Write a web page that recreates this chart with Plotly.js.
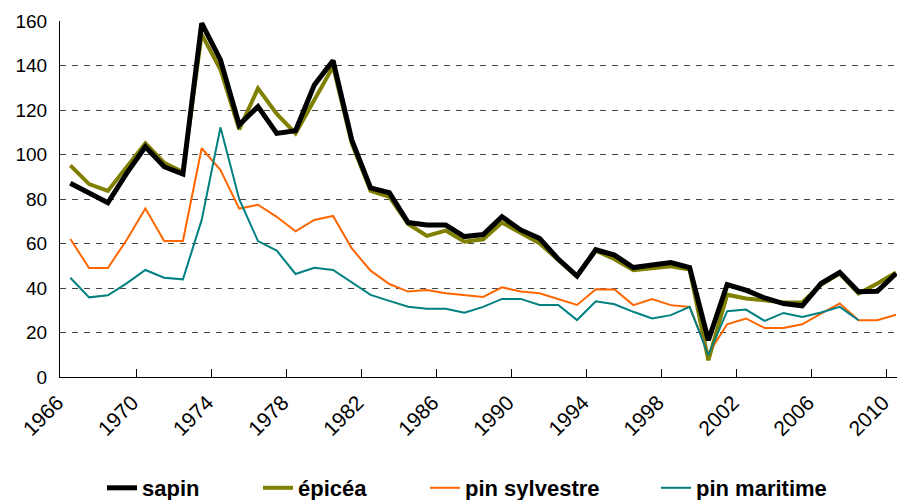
<!DOCTYPE html>
<html>
<head>
<meta charset="utf-8">
<script src="https://cdn.plot.ly/plotly-3.0.1.min.js"></script>
<style>html,body{margin:0;padding:0;background:#fff}#chart{width:897px;height:500px}</style>
</head>
<body>
<div id="chart"></div>
<script>
var years = [];
for (var yr = 1966; yr <= 2010; yr++) years.push(yr);

var sapin = [87.1, 82.8, 78.3, 91.5, 103.5, 94.5, 91.2, 159, 142.5, 113.3,
             121.5, 109.5, 110.7, 131.2, 142.2, 106.5, 85, 82.8, 69.4, 68.3,
             68.3, 63.1, 64, 72, 66.1, 62.3, 53, 45.4, 57.2, 54.8,
             49.2, 50.3, 51.4, 49.2, 16.5, 41.5, 39, 35.5, 33, 32,
             42, 47, 38.3, 38.5, 46.5];
var epicea = [95.1, 86.7, 83.6, 94, 105, 96.3, 92.1, 154, 138.2, 111.3,
              129.7, 118.2, 109.5, 124.5, 139.5, 105, 83.7, 81, 68.8, 63.4,
              65.8, 60.8, 61.9, 69.4, 64.6, 60.1, 52.6, 45.1, 56.8, 52.9,
              48, 48.8, 49.8, 48.3, 7.5, 37, 35.3, 34.5, 33.5, 33.5,
              41.5, 46.5, 37.5, 42, 47];
var pinSylvestre = [62, 49, 49, 61.6, 75.7, 61.1, 61.1, 102.8, 93, 75.7,
                    77.4, 72, 65.5, 70.6, 72.4, 57.8, 47.8, 41.8, 38.4, 39.1,
                    37.6, 36.9, 36, 40.3, 38.4, 37.6, 35.1, 32.4, 39.4, 39.3,
                    32.3, 35, 32.3, 31.5, 10.5, 23.7, 26.3, 22, 22, 23.7,
                    28.5, 33, 25.5, 25.5, 28];
var pinMaritime = [44.6, 35.8, 36.7, 42.1, 48.1, 44.6, 43.9, 70.6, 112.2, 79.9,
                   61.1, 56.8, 46.3, 49.1, 48.1, 42.4, 36.9, 34.2, 31.6, 30.7,
                   30.7, 28.9, 31.5, 35.1, 35.1, 32.4, 32.4, 25.6, 34, 32.7,
                   29.3, 26.3, 27.8, 31.5, 9.8, 29.6, 30.3, 25.2, 28.8, 27,
                   29, 31.5, 25.5, null, null];

var labelYears = [1966, 1970, 1974, 1978, 1982, 1986, 1990, 1994, 1998, 2002, 2006, 2010];
var labelText = labelYears.map(String);
var tickBounds = [1969.5, 1973.5, 1977.5, 1981.5, 1985.5, 1989.5, 1993.5, 1997.5, 2001.5, 2005.5, 2009.5];
var yTicks = [0, 20, 40, 60, 80, 100, 120, 140, 160];

var names = ['sapin', 'épicéa', 'pin sylvestre', 'pin maritime'];
var series = [sapin, epicea, pinSylvestre, pinMaritime];
var colors = ['#000000', '#808000', '#FF6600', '#008080'];
var widths = [5, 4, 2, 2];
var legendIds = ['legend', 'legend2', 'legend3', 'legend4'];
var legendX = [102, 258, 425, 656];

var traces = series.map(function (s, i) {
  return {
    x: years, y: s, type: 'scatter', mode: 'lines', name: names[i],
    line: {color: colors[i], width: widths[i]},
    legend: legendIds[i], hoverinfo: 'x+y+name'
  };
});
var order = [1, 0, 2, 3];

var legendFont = {family: 'Liberation Sans, Arial, sans-serif', size: 22, color: '#000', weight: 'bold'};
function mkLegend(px) {
  return {orientation: 'h', xref: 'container', yref: 'container', x: px / 897, y: 12 / 500,
          xanchor: 'left', yanchor: 'middle', font: legendFont, bgcolor: 'rgba(0,0,0,0)',
          borderwidth: 0, itemwidth: 30};
}

var layout = {
  width: 897, height: 500,
  margin: {l: 60, r: 0, t: 21, b: 123},
  paper_bgcolor: '#fff', plot_bgcolor: '#fff',
  font: {family: 'Liberation Sans, Arial, sans-serif', color: '#000'},
  showlegend: true,
  xaxis: {
    range: [1965.45, 2010.05],
    tickmode: 'array', tickvals: labelYears, ticktext: labelText,
    ticks: '', tickangle: -45, tickfont: {size: 21, color: '#000'},
    ticklabelstandoff: 4, ticklabelshift: -13, ticklabeloverflow: 'allow',
    showgrid: false, zeroline: false,
    showline: true, linecolor: '#000', linewidth: 1,
    minor: {tickmode: 'array', tickvals: tickBounds, ticks: 'inside', ticklen: 8, tickcolor: '#000', tickwidth: 1, showgrid: false}
  },
  yaxis: {
    range: [0, 160], tickmode: 'array', tickvals: yTicks,
    ticks: '', tickfont: {size: 19, color: '#000'}, ticklabelstandoff: 8,
    showgrid: true, gridcolor: '#444', griddash: '6px,6px', gridwidth: 1,
    zeroline: false, showline: true, linecolor: '#000', linewidth: 1
  },
  legend: mkLegend(legendX[0]),
  legend2: mkLegend(legendX[1]),
  legend3: mkLegend(legendX[2]),
  legend4: mkLegend(legendX[3])
};

Plotly.newPlot('chart', order.map(function (i) { return traces[i]; }), layout, {displayModeBar: false, staticPlot: true});
</script>
</body>
</html>
